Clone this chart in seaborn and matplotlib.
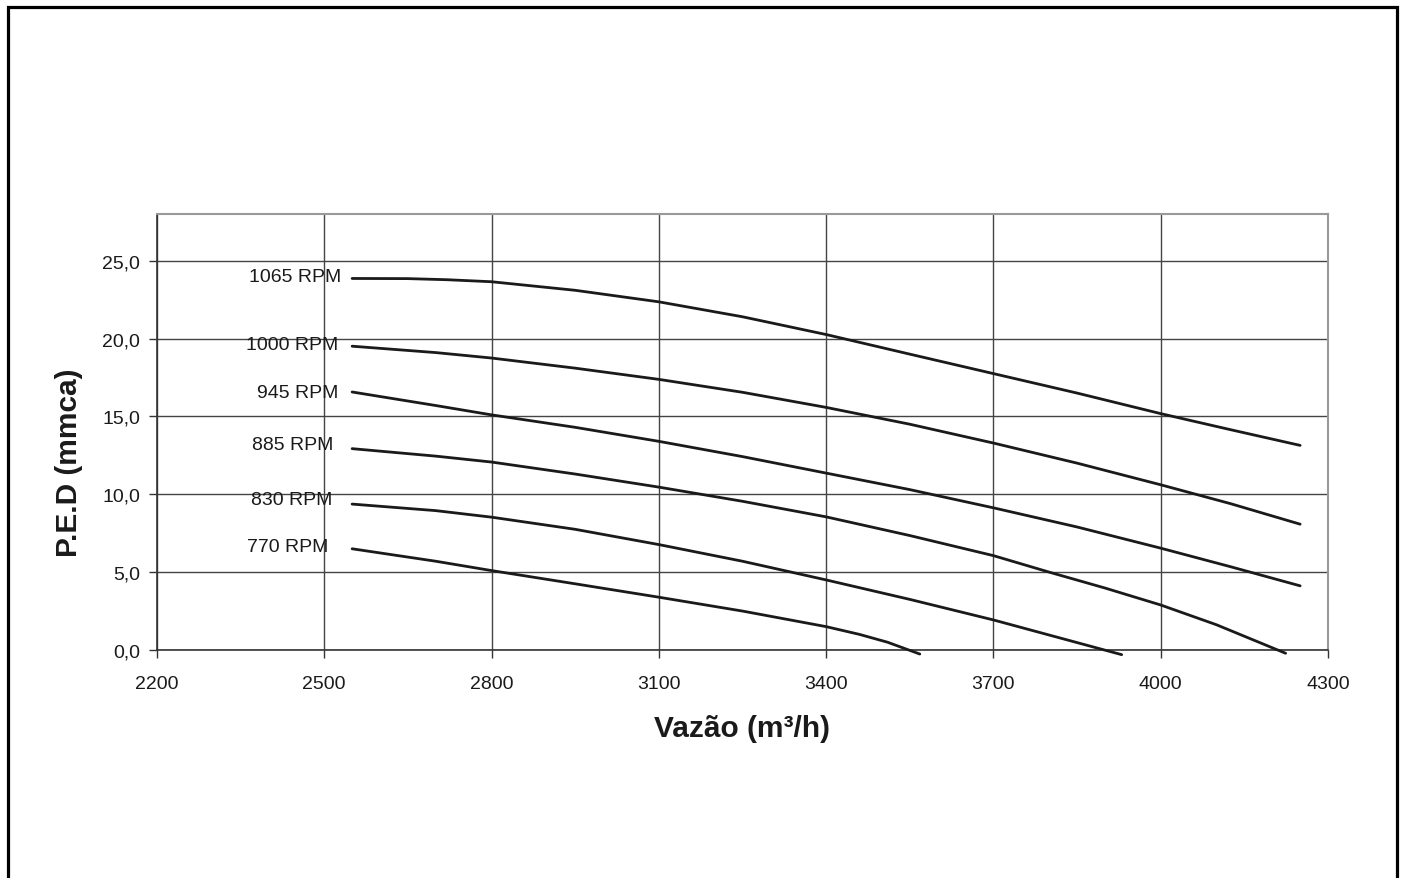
import matplotlib
matplotlib.use("Agg")
import matplotlib.pyplot as plt
from matplotlib.patches import Rectangle
from matplotlib.ticker import FuncFormatter
import pandas as pd
import seaborn as sns

# curves (flow m3/h, pressure mmca)
rpm_1065_x = [2550, 2650, 2720, 2800, 2950, 3100, 3250, 3400, 3550, 3700, 3850, 4000, 4125, 4250]
rpm_1065_y = [23.86, 23.85, 23.78, 23.65, 23.1, 22.36, 21.4, 20.26, 19.0, 17.75, 16.5, 15.18, 14.15, 13.14]

rpm_1000_x = [2550, 2700, 2800, 2950, 3100, 3250, 3400, 3550, 3700, 3850, 4000, 4125, 4250]
rpm_1000_y = [19.51, 19.1, 18.75, 18.1, 17.38, 16.55, 15.58, 14.5, 13.29, 12.0, 10.61, 9.4, 8.08]

rpm_945_x = [2550, 2700, 2800, 2950, 3100, 3250, 3400, 3550, 3700, 3850, 4000, 4125, 4250]
rpm_945_y = [16.57, 15.7, 15.1, 14.3, 13.4, 12.42, 11.36, 10.3, 9.13, 7.9, 6.54, 5.35, 4.12]

rpm_885_x = [2550, 2700, 2800, 2950, 3100, 3250, 3400, 3550, 3700, 3800, 3900, 4000, 4100, 4224]
rpm_885_y = [12.93, 12.45, 12.07, 11.3, 10.46, 9.55, 8.55, 7.35, 6.06, 5.0, 3.98, 2.89, 1.62, -0.21]

rpm_830_x = [2550, 2700, 2800, 2950, 3100, 3250, 3400, 3550, 3700, 3800, 3930]
rpm_830_y = [9.37, 8.95, 8.53, 7.75, 6.77, 5.7, 4.5, 3.25, 1.93, 0.96, -0.3]

rpm_770_x = [2550, 2700, 2800, 2950, 3100, 3250, 3400, 3460, 3510, 3568]
rpm_770_y = [6.5, 5.7, 5.1, 4.25, 3.39, 2.5, 1.5, 1.0, 0.5, -0.26]

rpm_labels = ["1065 RPM", "1000 RPM", "945 RPM", "885 RPM", "830 RPM", "770 RPM"]
x_ticks = [2200, 2500, 2800, 3100, 3400, 3700, 4000, 4300]
y_ticks = [0, 5, 10, 15, 20, 25]

curves = [(rpm_1065_x, rpm_1065_y), (rpm_1000_x, rpm_1000_y), (rpm_945_x, rpm_945_y),
          (rpm_885_x, rpm_885_y), (rpm_830_x, rpm_830_y), (rpm_770_x, rpm_770_y)]
frames = []
for name, (xs, ys) in zip(rpm_labels, curves):
    frames.append(pd.DataFrame({"vazao": xs, "ped": ys, "rpm": name}))
df = pd.concat(frames, ignore_index=True)

# where the RPM labels sit (right edge, vertical centre)
label_pos = [(2530, 23.99), (2526, 19.63), (2526, 16.53),
             (2516, 13.18), (2514, 9.65), (2507, 6.64)]

sns.set_style("white")
plt.rcParams["font.family"] = ["Liberation Sans", "DejaVu Sans"]

fig = plt.figure(figsize=(14.05, 8.79), dpi=100)
ax = fig.add_axes([0.1117, 0.2594, 0.8335, 0.496])

sns.lineplot(data=df, x="vazao", y="ped", units="rpm", estimator=None,
             sort=False, color="#1a1a1a", linewidth=2.0, ax=ax)
for line in ax.lines:
    line.set_clip_on(False)
    line.set_zorder(3)
    line.set_solid_joinstyle("round")

for name, (lx, ly) in zip(rpm_labels, label_pos):
    ax.text(lx, ly, name, ha="right", va="center", fontsize=14, color="#1a1a1a", zorder=4)

ax.set_xlim(2200, 4300)
ax.set_ylim(0, 28)
ax.set_xticks(x_ticks)
ax.set_yticks(y_ticks)
ax.yaxis.set_major_formatter(FuncFormatter(lambda v, p: f"{v:.1f}".replace(".", ",")))
ax.grid(True, color="#444444", linewidth=1.0)
ax.set_axisbelow(True)
ax.tick_params(axis="both", direction="out", length=6, width=1, color="#333333",
               labelsize=14, labelcolor="#1a1a1a", left=True, bottom=True)
ax.tick_params(axis="y", pad=6)
ax.tick_params(axis="x", pad=12)

for side in ["left", "bottom"]:
    ax.spines[side].set_color("#333333")
    ax.spines[side].set_linewidth(1.2)
for side in ["top", "right"]:
    ax.spines[side].set_color("#999999")
    ax.spines[side].set_linewidth(1.5)

ax.set_xlabel("Vazão (m³/h)", fontsize=21.5, fontweight="bold", color="#1a1a1a", labelpad=16)
ax.set_ylabel("P.E.D (mmca)", fontsize=21.5, fontweight="bold", color="#1a1a1a")
ax.yaxis.label.set_va("center")
ax.yaxis.set_label_coords(-0.075, 0.431)

# outer frame around the page
fig.patches.append(Rectangle((7.5 / 1405, -0.05), (1396.5 - 7.5) / 1405, 1.05 - 7.5 / 879,
                             transform=fig.transFigure, fill=False,
                             edgecolor="black", linewidth=2.3))

fig.savefig("out.png", dpi=100)
